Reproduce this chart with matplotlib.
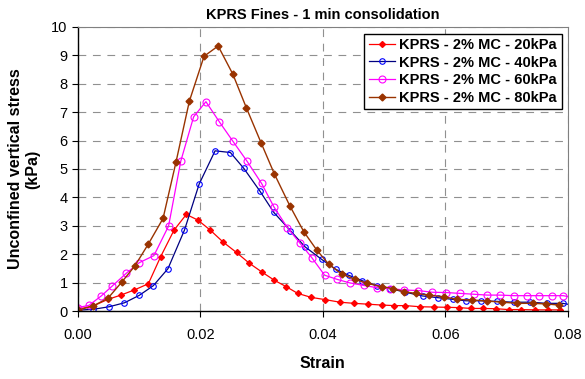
import matplotlib
matplotlib.use('Agg')
import numpy as np
import matplotlib.pyplot as plt

plt.rcParams['font.family'] = ['Liberation Sans', 'DejaVu Sans']

# Data
strain_20 = [0.0000, 0.0025, 0.0049, 0.0070, 0.0092, 0.0115, 0.0135, 0.0157, 0.0177,
             0.0196, 0.0216, 0.0237, 0.0259, 0.0280, 0.0300, 0.0321, 0.0340, 0.0359,
             0.0381, 0.0404, 0.0428, 0.0451, 0.0474, 0.0496, 0.0517, 0.0535, 0.0559,
             0.0582, 0.0603, 0.0622, 0.0642, 0.0662, 0.0683, 0.0704, 0.0724, 0.0746,
             0.0768, 0.0788]
stress_20 = [0.06, 0.18, 0.41, 0.56, 0.74, 0.96, 1.91, 2.85, 3.40,
             3.20, 2.85, 2.43, 2.06, 1.68, 1.38, 1.08, 0.86, 0.62,
             0.48, 0.40, 0.31, 0.27, 0.24, 0.21, 0.19, 0.19, 0.15,
             0.14, 0.13, 0.12, 0.09, 0.09, 0.08, 0.05, 0.05, 0.04,
             0.04, 0.04]

strain_40 = [0.0000, 0.0025, 0.0051, 0.0076, 0.0100, 0.0123, 0.0147, 0.0174, 0.0198,
             0.0224, 0.0249, 0.0271, 0.0297, 0.0320, 0.0347, 0.0371, 0.0398, 0.0421,
             0.0442, 0.0464, 0.0488, 0.0510, 0.0535, 0.0563, 0.0588, 0.0612, 0.0634,
             0.0658, 0.0684, 0.0712, 0.0739, 0.0766, 0.0792, 0.0800]
stress_40 = [0.03, 0.06, 0.15, 0.29, 0.55, 0.89, 1.49, 2.85, 4.47,
             5.64, 5.58, 5.02, 4.23, 3.47, 2.83, 2.26, 1.82, 1.47,
             1.26, 1.07, 0.89, 0.79, 0.66, 0.53, 0.47, 0.41, 0.36,
             0.36, 0.34, 0.31, 0.31, 0.27, 0.27, 0.24]

strain_60 = [0.0000, 0.0018, 0.0038, 0.0056, 0.0079, 0.0100, 0.0124, 0.0148, 0.0168,
             0.0189, 0.0209, 0.0231, 0.0253, 0.0276, 0.0300, 0.0320, 0.0342, 0.0363,
             0.0382, 0.0403, 0.0424, 0.0444, 0.0467, 0.0489, 0.0510, 0.0533, 0.0556,
             0.0579, 0.0602, 0.0624, 0.0647, 0.0669, 0.0690, 0.0712, 0.0733, 0.0753,
             0.0775, 0.0793, 0.0800]
stress_60 = [0.12, 0.20, 0.53, 0.88, 1.33, 1.70, 1.95, 2.99, 5.28,
             6.84, 7.37, 6.66, 5.98, 5.28, 4.49, 3.67, 2.94, 2.38,
             1.88, 1.26, 1.11, 0.99, 0.90, 0.82, 0.79, 0.74, 0.72,
             0.66, 0.65, 0.62, 0.59, 0.56, 0.56, 0.54, 0.54, 0.54,
             0.54, 0.54, 0.51]

strain_80 = [0.0000, 0.0025, 0.0049, 0.0072, 0.0093, 0.0115, 0.0139, 0.0160, 0.0182,
             0.0206, 0.0229, 0.0253, 0.0275, 0.0299, 0.0321, 0.0346, 0.0369, 0.0390,
             0.0410, 0.0431, 0.0453, 0.0473, 0.0496, 0.0515, 0.0532, 0.0552, 0.0574,
             0.0598, 0.0619, 0.0643, 0.0669, 0.0693, 0.0718, 0.0743, 0.0764, 0.0786]
stress_80 = [0.03, 0.18, 0.45, 1.03, 1.59, 2.36, 3.26, 5.23, 7.39,
             8.97, 9.33, 8.34, 7.16, 5.93, 4.82, 3.71, 2.79, 2.15,
             1.64, 1.30, 1.11, 0.97, 0.86, 0.79, 0.68, 0.62, 0.56,
             0.50, 0.41, 0.39, 0.35, 0.31, 0.27, 0.27, 0.25, 0.21]

labels = ['KPRS - 2% MC - 20kPa', 'KPRS - 2% MC - 40kPa',
          'KPRS - 2% MC - 60kPa', 'KPRS - 2% MC - 80kPa']

fig = plt.figure(figsize=(5.85, 3.79), dpi=100)
ax = fig.add_axes([0.1333, 0.1794, 0.837, 0.7494])

ax.plot(strain_20, stress_20, color='#ff0000', lw=0.9, marker='D', ms=3.0,
        mfc='#ff0000', mec='#ff0000', label=labels[0])
ax.plot(strain_40, stress_40, color='#000080', lw=0.9, marker='o', ms=4.0,
        mfc='none', mec='#0000ff', mew=0.8, label=labels[1], markevery=range(33))
ax.plot(strain_60, stress_60, color='#ff00ff', lw=0.9, marker='o', ms=5.0,
        mfc='none', mec='#ff00ff', mew=0.8, label=labels[2], markevery=range(38))
ax.plot(strain_80, stress_80, color='#993300', lw=1.0, marker='D', ms=3.5,
        mfc='#993300', mec='#993300', label=labels[3])

ax.set_xlim(0, 0.08)
ax.set_ylim(0, 10)
ax.set_xticks(np.arange(0, 0.081, 0.02))
ax.set_xticklabels([f'{v:.2f}' for v in np.arange(0, 0.081, 0.02)])
ax.set_yticks(range(0, 11))
ax.tick_params(labelsize=10.5, length=4, direction='out')
ax.tick_params(axis='x', pad=8)

ax.grid(True, ls=(0, (7, 6)), color='#909090', lw=0.8)
ax.set_axisbelow(True)
for side in ['top', 'right']:
    ax.spines[side].set_color('#808080')
for side in ['left', 'bottom']:
    ax.spines[side].set_linewidth(1.0)

ax.set_title('KPRS Fines - 1 min consolidation', fontsize=10.5, fontweight='bold', pad=6)
ax.set_xlabel('Strain', fontsize=11.5, fontweight='bold', labelpad=10)
ax.set_ylabel('Unconfined vertical stress\n(kPa)', fontsize=11.5, fontweight='bold',
              labelpad=8)

leg = ax.legend(loc='upper right', bbox_to_anchor=(0.9875, 0.977), prop={'size': 10.5, 'weight': 'bold'},
                frameon=True, fancybox=False, edgecolor='black', framealpha=1,
                handlelength=1.8, handletextpad=0.3, borderpad=0.3, labelspacing=0.25,
                borderaxespad=0)
leg.get_frame().set_linewidth(1.0)

fig.savefig('out.png', dpi=100)
